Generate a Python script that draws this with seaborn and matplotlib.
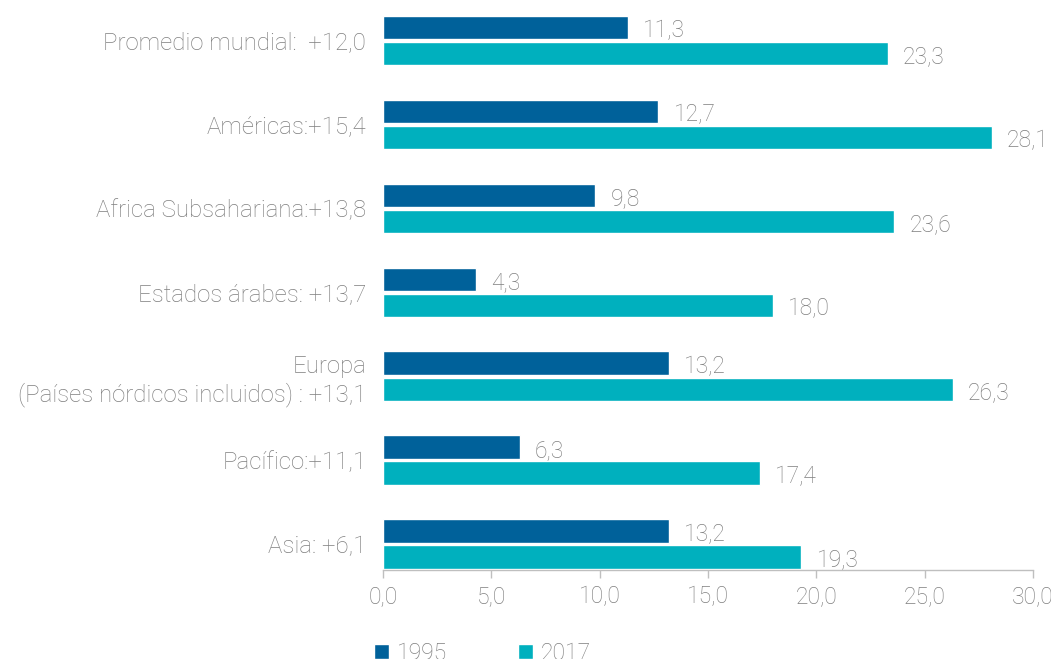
import matplotlib
matplotlib.use("Agg")
import matplotlib.pyplot as plt
import seaborn as sns
import pandas as pd

# Data
regions = [
    "Promedio mundial:  +12,0",
    "Américas:+15,4",
    "Africa Subsahariana:+13,8",
    "Estados árabes: +13,7",
    "Europa\n(Países nórdicos incluidos) : +13,1",
    "Pacífico:+11,1",
    "Asia: +6,1",
]
values_1995 = [11.3, 12.7, 9.8, 4.3, 13.2, 6.3, 13.2]
values_2017 = [23.3, 28.1, 23.6, 18.0, 26.3, 17.4, 19.3]
years = ["1995", "2017"]
x_ticks = [0, 5, 10, 15, 20, 25, 30]

df = pd.DataFrame({
    "region": regions * 2,
    "value": values_1995 + values_2017,
    "year": [years[0]] * len(regions) + [years[1]] * len(regions),
})

sns.set_style("white")
plt.rcParams["font.family"] = ["Roboto", "DejaVu Sans"]
plt.rcParams["font.weight"] = "light"
GRAY = "#7f7f7f"
FS = 16.5
palette = {"1995": "#00619a", "2017": "#00b0be"}

fig = plt.figure(figsize=(10.51, 6.59), dpi=100)
ax = fig.add_axes([383 / 1051, 1 - 570 / 659, 650 / 1051, 570 / 659])

sns.barplot(data=df, y="region", x="value", hue="year", orient="h",
            palette=palette, width=0.62, gap=0.11, saturation=1,
            order=regions, hue_order=years, ax=ax, legend=True)

# value labels, slightly below the bar centre
for cont in ax.containers:
    labels = [f"{v:.1f}".replace(".", ",") for v in cont.datavalues]
    anns = ax.bar_label(cont, labels=labels, padding=11, fontsize=FS, color=GRAY)
    for t in anns:
        t.xyann = (11, -2.5)

ax.set_xlim(0, 30)
ax.set_ylim(6.31, -0.48)
ax.set_xticks(x_ticks)
ax.set_xticklabels([f"{v:.1f}".replace(".", ",") for v in x_ticks])
ax.set_xlabel("")
ax.set_ylabel("")
ax.tick_params(axis="x", colors="#bfbfbf", labelcolor=GRAY, labelsize=FS,
               length=6, width=1, direction="out", bottom=True, pad=5)
ax.tick_params(axis="y", labelcolor=GRAY, labelsize=17.3, length=0, pad=12)
for lab in ax.get_yticklabels():
    lab.set_multialignment("right")

for s in ["top", "right", "left"]:
    ax.spines[s].set_visible(False)
ax.spines["bottom"].set_color("#bfbfbf")
ax.spines["bottom"].set_linewidth(1)

handles, labels = ax.get_legend_handles_labels()
ax.get_legend().remove()
fig.legend(handles, labels, loc="center", bbox_to_anchor=(0.459, 0.009),
           ncol=2, frameon=False, fontsize=FS, labelcolor=GRAY,
           handlelength=0.65, handleheight=0.65, handletextpad=0.35,
           columnspacing=3.1)

plt.savefig("out.png", dpi=100)
plt.close()
